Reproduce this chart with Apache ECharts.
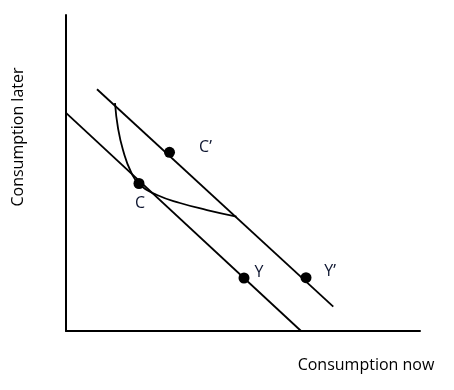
<!DOCTYPE html>
<html><head><meta charset="utf-8">
<script src="https://cdn.jsdelivr.net/npm/echarts@6/dist/echarts.min.js"></script>
<style>html,body{margin:0;padding:0;background:#fff}#c{width:454px;height:390px}</style>
</head><body><div id="c"></div>
<script>
// Budget line through Y and C (original)
const budgetLine1 = [[0, 69.0], [66.4, 0]];
// Budget line through Y' and C' (shifted)
const budgetLine2 = [[8.76, 76.5], [75.5, 7.7]];
// Indifference-like curve
const curve = [[13.84,72.15],[14.69,64.24],[16.10,57.28],[18.36,50.32],[20.90,46.20],[25.71,43.04],[32.20,40.51],[39.83,38.29],[48.16,36.23]];
// Points
const pointNames = ['C\u2019', 'C', 'Y', 'Y\u2019'];
const pointX = [29.24, 20.62, 50.28, 67.8];
const pointY = [56.55, 46.68, 16.77, 16.87];
const xTitle = 'Consumption now';
const yTitle = 'Consumption later';

const labelOffsets = [[36,-5],[1,20],[15,-6],[24,-6]];
const font = '"Open Sans", "Noto Sans", sans-serif';

const chart = echarts.init(document.getElementById('c'), null, {renderer:'canvas'});
const lineStyle = {color:'#000', width:1.8};
chart.setOption({
  animation:false,
  grid:{left:66, right:34, top:15, bottom:59, containLabel:false},
  xAxis:{type:'value', min:0, max:100, axisLine:{show:true, onZero:false, lineStyle:{color:'#000', width:2}}, axisTick:{show:false}, axisLabel:{show:false}, splitLine:{show:false}},
  yAxis:{type:'value', min:0, max:100, axisLine:{show:true, onZero:false, lineStyle:{color:'#000', width:2}}, axisTick:{show:false}, axisLabel:{show:false}, splitLine:{show:false}},
  graphic:[
    {type:'text', x:366, y:365, style:{text:xTitle, font:'16px '+font, fill:'#000', textAlign:'center', textVerticalAlign:'middle'}},
    {type:'text', x:18, y:137, rotation:Math.PI/2, style:{text:yTitle, font:'16px '+font, fill:'#000', textAlign:'center', textVerticalAlign:'middle'}}
  ],
  series:[
    {type:'line', data:budgetLine1, symbol:'none', lineStyle:lineStyle},
    {type:'line', data:budgetLine2, symbol:'none', lineStyle:lineStyle},
    {type:'line', data:curve, smooth:0.5, symbol:'none', lineStyle:lineStyle},
    {type:'scatter', symbolSize:11, itemStyle:{color:'#000', opacity:1},
     data:pointNames.map((n,i)=>({value:[pointX[i],pointY[i]], name:n,
       label:{show:true, formatter:n, position:'inside', offset:labelOffsets[i], color:'#0d1530', opacity:1, fontSize:16, fontFamily:font}}))}
  ]
});
</script></body></html>
